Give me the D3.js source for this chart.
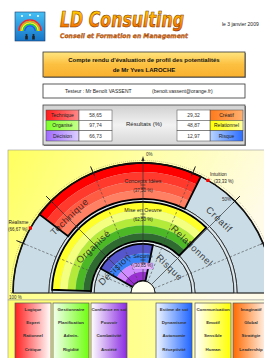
<!DOCTYPE html>
<html><head><meta charset="utf-8">
<script src="https://cdn.jsdelivr.net/npm/d3@7"></script>
<style>body{margin:0;background:#fff;overflow:hidden} svg{display:block;font-family:"Liberation Sans",Arial,sans-serif;}</style>
</head><body><svg id="c" width="264" height="358"></svg>
<script>
// ---------- data ----------
const leftCats = ["Technique","Organisé","Décision"];
const leftVals = [58.65, 97.74, 66.73];
const rightCats = ["Créatif","Relationnel","Risque"];
const rightVals = [29.32, 48.87, 12.97];
const centerLabels = ["Concepts Idées","Mise en Oeuvre","Sécurité"];
const centerVals = [37.50, 62.50, 30.85];
const markerNames = ["Réalisme","Intuition"];
const markerVals = [66.67, 33.33];
const markerSides = [-1, 1];
const gridTicks = [25, 50, 75];
const boxWords = [
  ["Logique","Expert","Rationnel","Critique"],
  ["Gestionnaire","Planification","Admin.","Rigidité"],
  ["Confiance en soi","Pouvoir","Combativité","Anxiété"],
  ["Estime de soi","Dynamisme","Autonomie","Réceptivité"],
  ["Communication","Emotif","Sensible","Human"],
  ["Imaginatif","Global","Stratégie","Leadership"]
];
const titleLines = ["Compte rendu d'évaluation de profil des potentialités","de Mr Yves LAROCHE"];

// ---------- setup ----------
const svg = d3.select("#c");
const defs = svg.append("defs");
const fr = d3.formatLocale({decimal:",",thousands:" ",grouping:[3],currency:["","€"]});
const f2 = fr.format(".2f");
function lg(id, stops, x2=1, y2=0){
  const g = defs.append("linearGradient").attr("id",id).attr("x1",0).attr("y1",0).attr("x2",x2).attr("y2",y2);
  stops.forEach((c,i)=>g.append("stop").attr("offset",i/(stops.length-1)).attr("stop-color",c));
}
lg("gLogo",["#45c0f5","#1575c8"],0,1);
lg("gBrand",["#ffe000","#ff9a00","#e85a00"],0,1);
lg("gTitle",["#ffe680","#fcc040","#f9b030"],0,1);
lg("gGrey",["#d0d0d0","#f2f2f2","#d6d6d6"],0,1);
lg("gPanel",["#ffff5e","#ffffa8","#fffbe8"],1,0.3);
lg("gPanel2",["#ffff70","#ffff90","#fffbe0"],1,0);
const cellCols = {
  "Technique":["#ff1a1a","#ff8a8a"],"Organisé":["#7cff2a","#c6ff8a"],"Décision":["#a06aff","#ddd0ff"],
  "Créatif":["#ff7a1a","#ffb070"],"Relationnel":["#ffff00","#ffff9a"],"Risque":["#b8d4ff","#2a6cff"]
};
Object.entries(cellCols).forEach(([k,v],i)=>lg("gc"+i,v));
const boxCols = [["#ff2020","#ffffff"],["#f4fff0","#6fff10"],["#ffffff","#8a2be2"],["#f0f6ff","#1e64ff"],["#ffffff","#ffff00"],["#ff6a00","#ffffff"]];
boxCols.forEach((v,i)=>lg("gb"+i,v));

// ---------- header ----------
svg.append("rect").attr("x",15).attr("y",12).attr("width",30).attr("height",29).attr("fill","url(#gLogo)").attr("stroke","#1a3a6a").attr("stroke-width",0.6);
["#ff2020","#ff9a00","#ffff00","#30d030","#2050ff"].forEach((c,i)=>{
  svg.append("path").attr("d",d3.arc()({innerRadius:10.5-i*1.5,outerRadius:11.8-i*1.5,startAngle:-Math.PI/2,endAngle:Math.PI/2}))
   .attr("transform","translate(30,31)").attr("fill",c);
});
[[22,16],[30,15],[38,16]].forEach(p=>svg.append("circle").attr("cx",p[0]).attr("cy",p[1]).attr("r",1).attr("fill","#fff"));
[[26.5,35],[33.5,35]].forEach(p=>{
  svg.append("circle").attr("cx",p[0]).attr("cy",p[1]).attr("r",1.1).attr("fill","#222");
  svg.append("rect").attr("x",p[0]-1.3).attr("y",p[1]+1).attr("width",2.6).attr("height",3.5).attr("fill","#222");
});
svg.append("text").attr("x",60).attr("y",27).attr("font-family","DejaVu Sans").attr("font-weight","bold").attr("font-style","italic")
  .attr("font-size",21).attr("textLength",124).attr("lengthAdjust","spacingAndGlyphs")
  .attr("fill","url(#gBrand)").attr("stroke","#7a3000").attr("stroke-width",0.6).text("LD Consulting");
svg.append("text").attr("x",60).attr("y",37.5).attr("font-family","DejaVu Sans").attr("font-weight","bold").attr("font-style","italic")
  .attr("font-size",6.3).attr("textLength",128).attr("lengthAdjust","spacingAndGlyphs")
  .attr("fill","#f07000").attr("stroke","#5a2000").attr("stroke-width",0.25).text("Conseil et Formation en Management");
svg.append("text").attr("x",222).attr("y",25.5).attr("font-size",5).attr("fill","#222").text("le 3 janvier 2009");

// ---------- title box ----------
svg.append("rect").attr("x",44).attr("y",53).attr("width",202).attr("height",25).attr("fill","#999");
svg.append("rect").attr("x",43).attr("y",52).attr("width",202).attr("height",25).attr("fill","url(#gTitle)").attr("stroke","#333").attr("stroke-width",0.8);
titleLines.forEach((t,i)=>svg.append("text").attr("x",144).attr("y",62+i*9.5).attr("text-anchor","middle")
  .attr("font-size",6).attr("font-weight","bold").attr("fill","#111").text(t));

// ---------- testeur ----------
svg.append("rect").attr("x",43).attr("y",84).attr("width",202).attr("height",14).attr("fill","#fff").attr("stroke","#333").attr("stroke-width",0.8);
svg.append("text").attr("x",65).attr("y",93).attr("font-size",5).attr("fill","#222").text("Testeur : Mr Benoît VASSENT");
svg.append("text").attr("x",152).attr("y",93).attr("font-size",5).attr("fill","#222").text("(benoit.vassent@orange.fr)");

// ---------- results ----------
svg.append("rect").attr("x",44).attr("y",106).attr("width",202).attr("height",40).attr("fill","#888");
svg.append("rect").attr("x",43).attr("y",105).attr("width",202).attr("height",40).attr("fill","url(#gGrey)").attr("stroke","#444").attr("stroke-width",0.8);
const rowY = d3.scaleBand().domain(d3.range(3)).range([110,141]);
const catIndex = Object.keys(cellCols);
function table(cats, vals, xLab, xVal){
  cats.forEach((c,i)=>{
    const y = rowY(i), h = rowY.bandwidth();
    svg.append("rect").attr("x",xLab).attr("y",y).attr("width",33).attr("height",h).attr("fill","url(#gc"+catIndex.indexOf(c)+")").attr("stroke","#444").attr("stroke-width",0.5);
    svg.append("rect").attr("x",xVal).attr("y",y).attr("width",33).attr("height",h).attr("fill","#fff").attr("stroke","#444").attr("stroke-width",0.5);
    svg.append("text").attr("x",xLab+16.5).attr("y",y+h/2+1.8).attr("text-anchor","middle").attr("font-size",5).attr("fill","#222").text(c);
    svg.append("text").attr("x",xVal+16.5).attr("y",y+h/2+1.8).attr("text-anchor","middle").attr("font-size",5).attr("fill","#333").text(f2(vals[i]));
  });
}
table(leftCats,leftVals,46,79);
table(rightCats,rightVals,210,177);
svg.append("text").attr("x",144).attr("y",126).attr("text-anchor","middle").attr("font-size",6).attr("fill","#222").text("Résultats (%)");

// ---------- chart panel ----------
svg.append("rect").attr("x",8).attr("y",150).attr("width",262).attr("height",150).attr("fill","url(#gPanel)").attr("stroke","#999").attr("stroke-width",0.6);
svg.append("rect").attr("x",8).attr("y",300).attr("width",262).attr("height",62).attr("fill","url(#gPanel2)").attr("stroke","#999").attr("stroke-width",0.6);

const cx=143, cy=293;
const g = svg.append("g").attr("transform",`translate(${cx},${cy})`);
const ang = d3.scaleLinear().domain([0,100]).range([0,Math.PI/2]);
const bands = [{r0:94,r1:130},{r0:52,r1:91},{r0:12,r1:49}];
const stripes = [
  ["#ff0000","#ff3a2c","#ff5c44","#ff8062"],
  ["#ffff2a","#f4ff80","#b4ea3a","#4cb826","#2f6b30"],
  ["#5656cc","#3a82f8","#d08cff","#9a30d4"]
];
const arc = d3.arc();
const grey = "#cadce6";
// outer minor tick ring
g.append("path").attr("d",arc({innerRadius:130,outerRadius:132.5,startAngle:-Math.PI/2,endAngle:Math.PI/2}))
  .attr("fill","none").attr("stroke","#555").attr("stroke-width",0.5).attr("stroke-dasharray","0.6,1.4");
bands.forEach((b,i)=>{
  g.append("path").attr("d",arc({innerRadius:b.r0,outerRadius:b.r1,startAngle:-Math.PI/2,endAngle:Math.PI/2}))
    .attr("fill",grey).attr("stroke","#111").attr("stroke-width",0.9);
});
// gaps between bands
[[49,52],[91,94]].forEach(r=>g.append("path").attr("d",arc({innerRadius:r[0],outerRadius:r[1],startAngle:-Math.PI/2,endAngle:Math.PI/2}))
  .attr("fill","#dde8ee").attr("stroke","#111").attr("stroke-width",0.7));
// coloured sectors
bands.forEach((b,i)=>{
  const a0 = -ang(leftVals[i]), a1 = ang(rightVals[i]);
  const n = stripes[i].length, w=(b.r1-b.r0)/n;
  stripes[i].forEach((c,k)=>{
    g.append("path").attr("d",arc({innerRadius:b.r1-(k+1)*w,outerRadius:b.r1-k*w,startAngle:a0,endAngle:a1})).attr("fill",c);
  });
  g.append("path").attr("d",arc({innerRadius:b.r0,outerRadius:b.r1,startAngle:a0,endAngle:a1}))
    .attr("fill","none").attr("stroke","#000").attr("stroke-width",1.8).attr("stroke-linejoin","miter");
});
g.append("path").attr("d",arc({innerRadius:130,outerRadius:130,startAngle:-Math.PI/2,endAngle:Math.PI/2})).attr("fill","none").attr("stroke","#111").attr("stroke-width",1.6);
// radial lines
const pt = (v,side,r)=>{const a=side*ang(v);return [r*Math.sin(a),-r*Math.cos(a)];};
[-1,1].forEach(s=>gridTicks.forEach(t=>{
  const p0=pt(t,s,12), p1=pt(t,s,136);
  g.append("line").attr("x1",p0[0]).attr("y1",p0[1]).attr("x2",p1[0]).attr("y2",p1[1])
    .attr("stroke",t===50?"#333":"#444").attr("stroke-width",t===50?0.7:0.6).attr("stroke-dasharray",t===50?null:"2.5,1.8");
  const q0=pt(t,s,127), q1=pt(t,s,137);
  g.append("line").attr("x1",q0[0]).attr("y1",q0[1]).attr("x2",q1[0]).attr("y2",q1[1]).attr("stroke","#222").attr("stroke-width",1);
}));
// vertical axis with arrow
g.append("line").attr("x1",0).attr("y1",-12).attr("x2",0).attr("y2",-134).attr("stroke","#333").attr("stroke-width",0.7);
g.append("path").attr("d","M-1.6,-132 L0,-137 L1.6,-132 Z").attr("fill","#333");
// baseline
g.append("line").attr("x1",-132).attr("x2",132).attr("y1",0).attr("y2",0).attr("stroke","#444").attr("stroke-width",0.6);
g.append("path").attr("d",arc({innerRadius:0,outerRadius:12,startAngle:-Math.PI/2,endAngle:Math.PI/2})).attr("fill","#fffff0").attr("stroke","#111").attr("stroke-width",0.9);

// scale labels
g.append("text").attr("x",3).attr("y",-137).attr("font-size",4.5).attr("fill","#333").text("0%");
{const p=pt(47,1,124); g.append("text").attr("x",p[0]).attr("y",p[1]).attr("font-size",4.5).attr("fill","#333").attr("text-anchor","middle").text("50%");}
svg.append("text").attr("x",9).attr("y",298.5).attr("font-size",4.5).attr("fill","#333").text("100 %");

// band category labels
const labR = [106,68,37];
const labOff = [[-44,46],[-47,46],[-50,46]];
bands.forEach((b,i)=>{
  [[leftCats[i],-1],[rightCats[i],1]].forEach(([t,s],j)=>{
    const a = Math.abs(labOff[i][j])/90*100;
    const p = pt(a,s,labR[i]);
    g.append("text").attr("transform",`translate(${p[0]},${p[1]}) rotate(${s*44})`).attr("text-anchor","middle").attr("dy","0.35em")
      .attr("font-size",9.5).attr("letter-spacing",0.6).attr("fill","#222").attr("fill-opacity",0.85).text(t);
  });
});

// centre labels
const cLabR = [110,81,35];
centerLabels.forEach((t,i)=>{
  const y = -cLabR[i];
  if(i===2) g.append("rect").attr("x",-10).attr("y",y+5).attr("width",20).attr("height",6).attr("fill","#e8b4ff").attr("stroke","#b070e0").attr("stroke-width",0.3);
  g.append("text").attr("x",0).attr("y",y).attr("text-anchor","middle").attr("font-size",5.3).attr("fill","#222").text(t);
  g.append("text").attr("x",0).attr("y",y+9).attr("text-anchor","middle").attr("font-size",4.5).attr("fill","#222").text("("+f2(centerVals[i])+" %)");
  [y+2,y+5].forEach(yy=>g.append("line").attr("x1",-2.5).attr("x2",2.5).attr("y1",yy).attr("y2",yy).attr("stroke","#222").attr("stroke-width",0.6));
});

// markers
markerNames.forEach((n,i)=>{
  const s=markerSides[i], p=pt(markerVals[i],s,130);
  g.append("rect").attr("x",p[0]-1.6).attr("y",p[1]-1.6).attr("width",3.2).attr("height",3.2).attr("fill","#ff0000");
  const anchor = s<0?"end":"start";
  g.append("text").attr("x",p[0]+s*2).attr("y",p[1]-4).attr("text-anchor",anchor).attr("font-size",4.8).attr("fill","#222").text(n);
  g.append("text").attr("x",p[0]+s*(s<0?3:6)).attr("y",p[1]+2.5).attr("text-anchor",anchor).attr("font-size",4.5).attr("fill","#222").text("("+f2(markerVals[i])+" %)");
});

// ---------- bottom boxes ----------
const boxX = d3.scaleOrdinal().domain(d3.range(6)).range([15,53,91,156,195,233]);
boxWords.forEach((ws,i)=>{
  const x=boxX(i);
  svg.append("rect").attr("x",x).attr("y",303).attr("width",36).attr("height",60).attr("fill","url(#gb"+i+")").attr("stroke","#555").attr("stroke-width",0.7);
  ws.forEach((w,k)=>svg.append("text").attr("x",x+18).attr("y",310.5+k*13.4).attr("text-anchor","middle")
    .attr("font-size",4.4).attr("font-weight","bold").attr("fill","#333").text(w));
});
</script></body></html>
